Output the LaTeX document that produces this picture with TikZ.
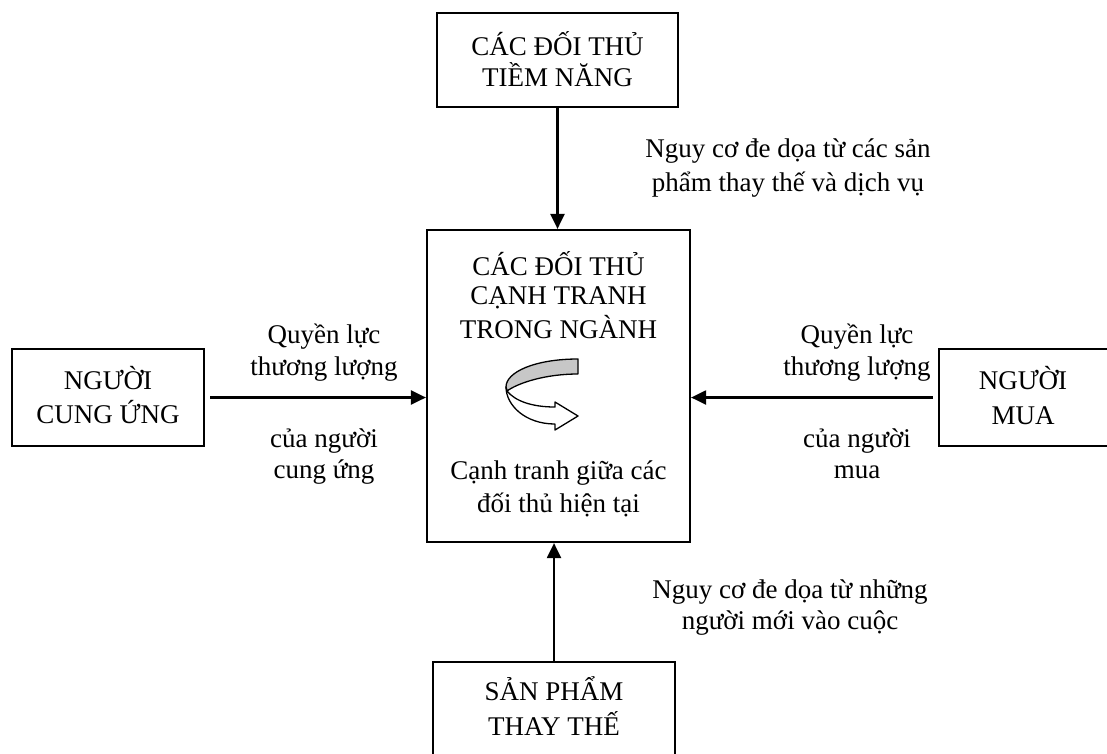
\documentclass[tikz,border=0pt]{standalone}
\usepackage{fontspec}
\setmainfont{Liberation Serif}
\usetikzlibrary{arrows.meta}
\begin{document}
\begin{tikzpicture}[x=1pt,y=-1pt,
  box/.style={draw, line width=2.2pt, rectangle, inner sep=0pt},
  lbl/.style={anchor=base, inner sep=0pt, font=\fontsize{27}{33}\selectfont},
  conn/.style={line width=2.2pt, -{Triangle[length=15pt,width=14pt]}},
  ribbon/.style={line width=1.3pt, line join=round}]
\useasboundingbox (0,0) rectangle (1107,753);
% boxes
\node[box, minimum width=241pt, minimum height=94pt] (top) at (557.5,60) {};
\node[box, minimum width=263pt, minimum height=312pt] (mid) at (558.5,386) {};
\node[box, minimum width=192pt, minimum height=97pt] (left) at (108,397.5) {};
\node[box, minimum width=200pt, minimum height=97pt] (right) at (1039,397.5) {};
\node[box, minimum width=242pt, minimum height=94pt] (bot) at (554,709) {};
% box texts
\node[lbl] (topA) at (557.5,55) {CÁC ĐỐI THỦ};
\node[lbl] (topB) at (557.5,86) {TIỀM NĂNG};
\node[lbl] (mid1) at (558.5,275) {CÁC ĐỐI THỦ};
\node[lbl] (mid2) at (558.5,304) {CẠNH TRANH};
\node[lbl] (mid3) at (558.5,338) {TRONG NGÀNH};
\node[lbl] (mid4) at (558.5,479) {Cạnh tranh giữa các};
\node[lbl] (mid5) at (558.5,512) {đối thủ hiện tại};
\node[lbl] (left1) at (108,389) {NGƯỜI};
\node[lbl] (left2) at (108,423) {CUNG ỨNG};
\node[lbl] (right1) at (1023,389) {NGƯỜI};
\node[lbl] (right2) at (1023,424) {MUA};
\node[lbl] (bot1) at (554,700) {SẢN PHẨM};
\node[lbl] (bot2) at (554,735) {THAY THẾ};
% connectors
\draw[conn] (top.south) -- (top.south |- mid.north);
\draw[conn] (bot.north) -- (bot.north |- mid.south);
\draw[conn, shorten <=5pt] (left.east) -- (left.east -| mid.west);
\draw[conn, shorten <=5pt] (right.west) -- (right.west -| mid.east);
% connector labels
\node[lbl] (lq1) at (324,343) {Quyền lực};
\node[lbl] (lq2) at (324,375) {thương lượng};
\node[lbl] (lq3) at (324,447) {của người};
\node[lbl] (lq4) at (324,478) {cung ứng};
\node[lbl] (rq1) at (857,343) {Quyền lực};
\node[lbl] (rq2) at (857,375) {thương lượng};
\node[lbl] (rq3) at (857,447) {của người};
\node[lbl] (rq4) at (857,478) {mua};
\node[lbl] (tq1) at (788,157) {Nguy cơ đe dọa từ các sản};
\node[lbl] (tq2) at (788,191) {phẩm thay thế và dịch vụ};
\node[lbl] (bq1) at (790,598) {Nguy cơ đe dọa từ những};
\node[lbl] (bq2) at (790,629) {người mới vào cuộc};
% curved ribbon arrow
\draw[ribbon, fill=black!22] (578,359) .. controls (535,359) and (506,372) .. (506,387)
  -- (507,391) .. controls (518,383) and (545,374) .. (578,374) -- cycle;
\draw[ribbon, fill=white] (507,391) .. controls (515,401) and (532,407) .. (555,407)
  -- (555,402) -- (578,416) -- (555,430) -- (555,424)
  .. controls (525,424) and (506,405) .. (506,387) -- cycle;
\end{tikzpicture}
\end{document}
